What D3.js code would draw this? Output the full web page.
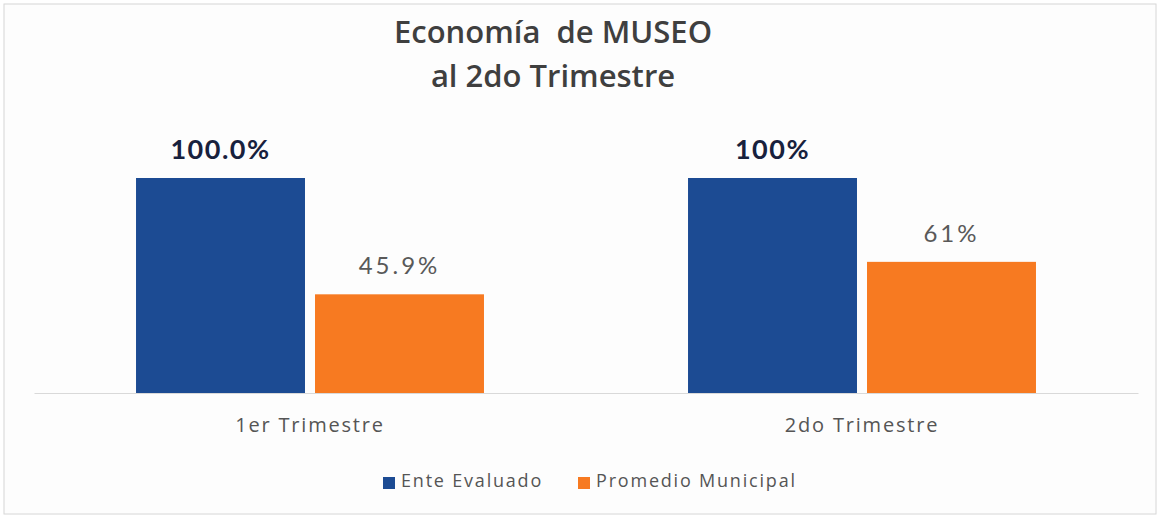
<!DOCTYPE html>
<html>
<head>
<meta charset="utf-8">
<script src="https://cdn.jsdelivr.net/npm/d3@7"></script>
<style>
  body { margin: 0; background: #fff; }
  svg { display: block; }
</style>
</head>
<body>
<svg width="1161" height="519"></svg>
<script>
// chart data
const categories = ['1er Trimestre', '2do Trimestre'];
const seriesNames = ['Ente Evaluado', 'Promedio Municipal'];
const enteEvaluado = [100, 100];
const promedioMunicipal = [45.9, 61];
const labelsEnte = ['100.0%', '100%'];
const labelsPromedio = ['45.9%', '61%'];
const titleLines = ['Economía  de MUSEO', 'al 2do Trimestre'];

const colors = ['#1c4b93', '#f77a21'];

const svg = d3.select('svg');
const width = +svg.attr('width');
const height = +svg.attr('height');
const margin = { top: 178, right: 23, bottom: 126, left: 34 };
const chartWidth = width - margin.left - margin.right;
const chartHeight = height - margin.top - margin.bottom;

// page background and frame
svg.append('rect')
  .attr('x', 4).attr('y', 4)
  .attr('width', width - 9).attr('height', height - 9)
  .attr('fill', '#fdfdfd')
  .attr('stroke', '#d6d6d6');

const x0 = d3.scaleBand().domain(categories).range([0, chartWidth]);
const x1 = d3.scaleBand().domain(seriesNames).range([0, x0.bandwidth()])
  .paddingInner(0.056).paddingOuter(0.57);
const y = d3.scaleLinear().domain([0, 100]).range([chartHeight, 0]);

const chart = svg.append('g')
  .attr('transform', `translate(${margin.left},${margin.top})`);

const rows = categories.map((c, i) => ({
  cat: c,
  vals: [
    { name: seriesNames[0], v: enteEvaluado[i], label: labelsEnte[i] },
    { name: seriesNames[1], v: promedioMunicipal[i], label: labelsPromedio[i] }
  ]
}));

const group = chart.selectAll('g.cat')
  .data(rows)
  .enter()
  .append('g')
  .attr('class', 'cat')
  .attr('transform', (d) => `translate(${x0(d.cat)},0)`);

group.selectAll('rect')
  .data((d) => d.vals)
  .enter()
  .append('rect')
  .attr('x', (d) => x1(d.name))
  .attr('y', (d) => y(d.v))
  .attr('width', x1.bandwidth())
  .attr('height', (d) => chartHeight - y(d.v))
  .attr('fill', (d, i) => colors[i]);

// value labels: bold navy for Ente, grey for Promedio
group.selectAll('text.val')
  .data((d) => d.vals)
  .enter()
  .append('text')
  .attr('class', 'val')
  .attr('x', (d) => x1(d.name) + x1.bandwidth() / 2)
  .attr('y', (d, i) => y(d.v) - (i === 0 ? 19 : 20))
  .attr('text-anchor', 'middle')
  .attr('font-family', 'Lato, "Noto Sans", sans-serif')
  .attr('font-size', (d, i) => (i === 0 ? 27 : 24))
  .attr('font-weight', (d, i) => (i === 0 ? 'bold' : 'normal'))
  .attr('fill', (d, i) => (i === 0 ? '#18213d' : '#595959'))
  .attr('letter-spacing', (d, i) => (i === 0 ? 1.5 : 3))
  .text((d) => d.label);

// baseline axis
const xAxis = chart.append('g')
  .attr('transform', `translate(0,${chartHeight})`)
  .call(d3.axisBottom(x0).tickSize(0).tickPadding(25));
xAxis.select('.domain').attr('stroke', '#d9d9d9');
xAxis.selectAll('text')
  .attr('font-family', '"Open Sans", sans-serif')
  .attr('font-size', 20)
  .attr('letter-spacing', 1.8)
  .attr('fill', '#555');

// title
svg.append('text')
  .attr('text-anchor', 'middle')
  .attr('font-family', '"Open Sans", sans-serif')
  .attr('font-size', 31)
  .attr('font-weight', 600)
  .attr('fill', '#3f3f3f')
  .style('white-space', 'pre')
  .selectAll('tspan')
  .data(titleLines)
  .enter()
  .append('tspan')
  .attr('x', 553)
  .attr('y', (d, i) => 43 + i * 44)
  .text((d) => d);

// legend
const legend = svg.append('g').attr('transform', 'translate(383,483)');
const legendX = [0, 195];
seriesNames.forEach((name, i) => {
  const item = legend.append('g').attr('transform', `translate(${legendX[i]},0)`);
  item.append('rect')
    .attr('x', 0).attr('y', -6)
    .attr('width', 12).attr('height', 12)
    .attr('fill', colors[i]);
  item.append('text')
    .attr('x', 18).attr('y', 4)
    .attr('font-family', '"Open Sans", sans-serif')
    .attr('font-size', 18)
    .attr('letter-spacing', 1.8)
    .attr('fill', '#555')
    .text(name);
});
</script>
</body>
</html>
